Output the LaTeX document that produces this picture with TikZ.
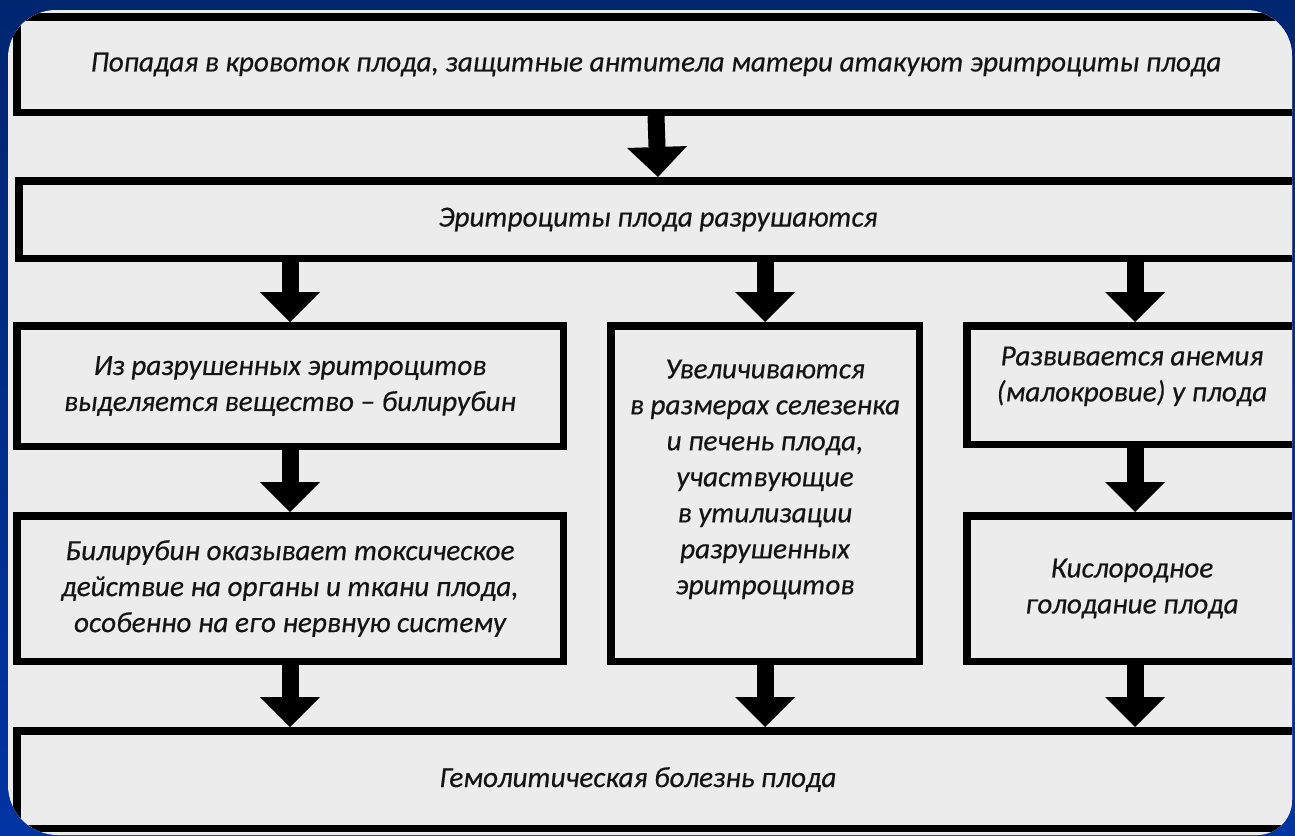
\documentclass[tikz,border=0pt]{standalone}
\usepackage{fontspec}
\setmainfont{Carlito}[ItalicFeatures={FakeBold=0.4}]
\usetikzlibrary{arrows.meta}
\definecolor{bgtop}{RGB}{0,38,112}
\definecolor{bgbot}{RGB}{0,52,162}
\definecolor{panel}{RGB}{236,236,236}
\tikzset{
  box/.style={draw=black, line width=7.5pt, fill=panel, align=center, inner sep=0pt,
    font=\fontsize{29.2}{36}\selectfont\itshape, text=black!92},
  barrow/.style={line width=17pt, draw=black,
    -{Triangle[width=60pt,length=30pt,line width=0pt]}}
}
\begin{document}
\begin{tikzpicture}[x=1pt,y=-1pt]
\useasboundingbox (0,0) rectangle (1295,835);
\shade[top color=bgtop, bottom color=bgbot] (0,0) rectangle (1295,835);
\fill[panel] (8,58) arc[start angle=180,end angle=270,radius=48] -- (1246,10) arc[start angle=270,end angle=360,radius=46] -- (1292,800) arc[start angle=0,end angle=90,radius=35] -- (58,835) arc[start angle=90,end angle=180,radius=50] -- cycle;
\begin{scope}
\path[clip] (8,58) arc[start angle=180,end angle=270,radius=48] -- (1246,10) arc[start angle=270,end angle=360,radius=46] -- (1292,800) arc[start angle=0,end angle=90,radius=35] -- (58,835) arc[start angle=90,end angle=180,radius=50] -- cycle;
\node[box, minimum width=1278.5pt, minimum height=95.5pt] (b1) at (656,64.5)
  {Попадая в кровоток плода, защитные антитела матери атакуют эритроциты плода};
\node[box, minimum width=1278.5pt, minimum height=77.5pt] (b2) at (658,219.5)
  {Эритроциты плода разрушаются};
\node[box, minimum width=546.5pt, minimum height=120.5pt] (ba) at (290,386)
  {Из разрушенных эритроцитов\\выделяется вещество – билирубин};
\node[box, minimum width=546.5pt, minimum height=145.5pt] (bb) at (290,588.5)
  {Билирубин оказывает токсическое\\действие на органы и ткани плода,\\особенно на его нервную систему};
\node[box, minimum width=308.5pt, minimum height=335.5pt] (bm) at (765,493.5)
  {Увеличиваются\\в размерах селезенка\\и печень плода,\\участвующие\\в утилизации\\разрушенных\\эритроцитов\\[-3pt]\mbox{}};
\node[box, minimum width=330.5pt, minimum height=118.5pt] (ra) at (1132,385)
  {Развивается анемия\\(малокровие) у плода\\[-14pt]\mbox{}};
\node[box, minimum width=330.5pt, minimum height=145.5pt] (rb) at (1132,588.5)
  {Кислородное\\голодание плода};
\node[box, minimum width=1282.5pt, minimum height=97.5pt] (bg) at (658,779.5)
  {Гемолитическая болезнь плода\hspace*{40pt}};
\draw[barrow] (b1.south) -- (b2.north);
\draw[barrow] (b2.south -| ba.north) -- (ba.north);
\draw[barrow] (b2.south -| bm.north) -- (bm.north);
\draw[barrow] ([xshift=3pt]b2.south -| ra.north) -- ([xshift=3pt]ra.north);
\draw[barrow] (ba.south) -- (bb.north);
\draw[barrow] ([xshift=3pt]ra.south) -- ([xshift=3pt]rb.north);
\draw[barrow] (bb.south) -- (bg.north -| bb.south);
\draw[barrow] (bm.south) -- (bg.north -| bm.south);
\draw[barrow] ([xshift=3pt]rb.south) -- ([xshift=3pt]bg.north -| rb.south);
\end{scope}
\end{tikzpicture}
\end{document}
